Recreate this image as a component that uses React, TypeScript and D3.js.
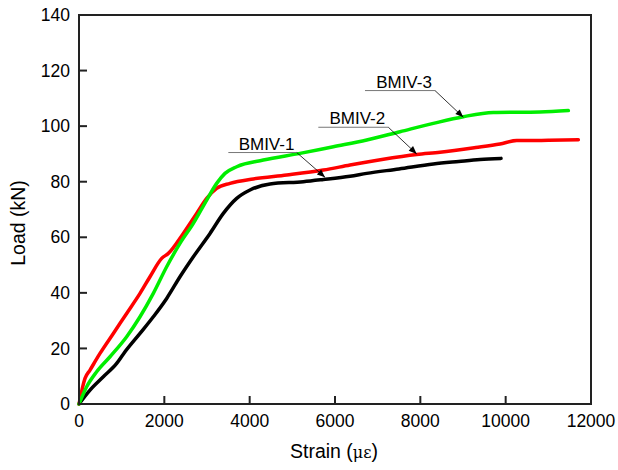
import React from "react";
import * as d3 from "d3";

const W = 618;
const H = 470;

const xTicks = [0, 2000, 4000, 6000, 8000, 10000, 12000];
const yTicks = [0, 20, 40, 60, 80, 100, 120, 140];

const bmiv1: [number, number][] = [
  [0, 0], [258, 5], [570, 9.8], [883, 14.6], [1050, 18.2], [1430, 25.4], [1742, 31.4],
  [2055, 38], [2367, 45.8], [2680, 53], [3071, 61.4], [3383, 68.6], [3696, 74],
  [4008, 77], [4477, 79.2], [5258, 80], [5727, 80.8], [6352, 82], [6743, 83],
  [7500, 84.6], [8305, 86.4], [8900, 87.3], [9400, 88], [9891, 88.4],
];

const bmiv2: [number, number][] = [
  [0, 0], [141, 9.2], [258, 12.2], [492, 18.2], [805, 25.4], [1117, 32.6], [1430, 39.8],
  [1664, 45.8], [1938, 52.4], [2094, 54.2], [2445, 61.4], [2758, 68.6], [2993, 74],
  [3227, 77.6], [3539, 79.4], [4086, 81], [4868, 82.4], [5727, 84.2], [6352, 86],
  [7100, 88], [7914, 89.8], [8461, 90.6], [9300, 92.3], [9867, 93.6], [10259, 94.8],
  [11000, 94.9], [11704, 95.1],
];

const bmiv3: [number, number][] = [
  [0, 0], [180, 6.2], [414, 11.6], [727, 17], [1117, 24.2], [1430, 31.4], [1742, 39.8],
  [2055, 49.4], [2367, 57.8], [2680, 65], [2993, 73.4], [3227, 79.4], [3422, 83],
  [3696, 85.4], [4320, 87.8], [5180, 90.2], [5961, 92.6], [6743, 95],
  [7524, 98], [8305, 101], [9008, 103.4], [9711, 104.9], [10805, 105.1], [11469, 105.6],
];

const seriesNames = ["BMIV-1", "BMIV-2", "BMIV-3"];
const seriesData = [bmiv1, bmiv2, bmiv3];
const seriesColors = ["#000000", "#ff0000", "#00ee00"];

// annotation: underline start x, underline end x, underline y, arrow tip x, arrow tip y (data units)
const annStartX = [3500, 5609, 6703];
const annEndX = [5103, 7250, 8344];
const annY = [90.5, 99.6, 112.8];
const tipX = [5766, 7915, 9008];
const tipY = [81.6, 90, 103.2];

export default function App() {
  const left = 79, right = 591, top = 15, bottom = 404;
  const x = d3.scaleLinear().domain([0, 12000]).range([left, right]);
  const y = d3.scaleLinear().domain([0, 140]).range([bottom, top]);
  const line = d3.line<[number, number]>().x(d => x(d[0])).y(d => y(d[1])).curve(d3.curveMonotoneX);
  const font = "Arial, 'Liberation Sans', sans-serif";

  return (
    <svg width={W} height={H} style={{ position: "absolute", left: 0, top: 0, background: "#fff" }}>
      <defs>
        <marker id="ah" viewBox="0 0 10 10" refX="10" refY="5" markerWidth="10" markerHeight="8" markerUnits="userSpaceOnUse" orient="auto">
          <path d="M0,1 L10,5 L0,9 z" fill="#000" />
        </marker>
      </defs>
      <rect x={0} y={0} width={W} height={H} fill="#fff" />
      {seriesData.map((d, i) => (
        <path key={i} d={line(d) || ""} fill="none" stroke={seriesColors[i]} strokeWidth={3.5} strokeLinejoin="round" strokeLinecap="round" />
      ))}
      {seriesNames.map((n, i) => (
        <g key={n}>
          <line x1={x(annStartX[i])} x2={x(annEndX[i])} y1={y(annY[i])} y2={y(annY[i])} stroke="#777" strokeWidth={1} />
          <line x1={x(annEndX[i])} y1={y(annY[i])} x2={x(tipX[i])} y2={y(tipY[i])} stroke="#000" strokeWidth={0.8} markerEnd="url(#ah)" />
          <text x={(x(annStartX[i]) + x(annEndX[i])) / 2 + 4} y={y(annY[i]) - 3} textAnchor="middle" fontFamily={font} fontSize={17} fill="#000">{n}</text>
        </g>
      ))}
      <rect x={left} y={top} width={right - left} height={bottom - top} fill="none" stroke="#222" strokeWidth={2} />
      {xTicks.map(t => (
        <g key={"x" + t}>
          <line x1={x(t)} x2={x(t)} y1={bottom} y2={bottom - 8} stroke="#222" strokeWidth={2} />
          <text x={x(t)} y={427} textAnchor="middle" fontFamily={font} fontSize={17.5} fill="#000">{t}</text>
        </g>
      ))}
      {yTicks.map(t => (
        <g key={"y" + t}>
          <line x1={left} x2={left + 8} y1={y(t)} y2={y(t)} stroke="#222" strokeWidth={2} />
          <text x={70} y={y(t)} dy="0.35em" textAnchor="end" fontFamily={font} fontSize={17.5} fill="#000">{t}</text>
        </g>
      ))}
      <text x={334} y={458} textAnchor="middle" fontFamily={font} fontSize={19.5} fill="#000">
        Strain (<tspan fontFamily="'DejaVu Serif', serif" fontSize={16}>με</tspan>)
      </text>
      <text transform={`translate(25,223) rotate(-90)`} textAnchor="middle" fontFamily={font} fontSize={19.5} fill="#000">Load (kN)</text>
    </svg>
  );
}
